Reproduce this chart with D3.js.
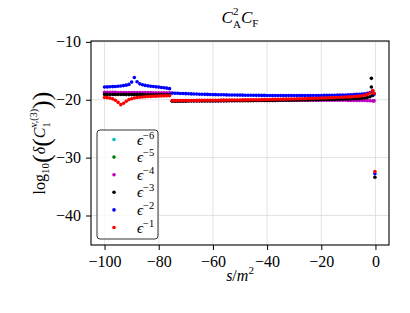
<!DOCTYPE html>
<html>
<head>
<meta charset="utf-8">
<script src="https://cdn.jsdelivr.net/npm/d3@7"></script>
<style>
  body { margin: 0; background: #fff; }
  svg { display: block; }
  text { font-family: "Liberation Serif", "DejaVu Serif", serif; fill: #000; }
</style>
</head>
<body>
<svg id="chart" width="410" height="313"></svg>
<script>
// ---- data ----
const sGrid = [
  -100,-99,-98,-97,-96,-95,-94,-93,-92,-91,-90,-89,-88,-87,-86,-85,-84,-83,-82,-81,
  -80,-79,-78,-77,-76,-75,-74,-73,-72,-71,-70,-69,-68,-67,-66,-65,-64,-63,-62,-61,
  -60,-59,-58,-57,-56,-55,-54,-53,-52,-51,-50,-49,-48,-47,-46,-45,-44,-43,-42,-41,
  -40,-39,-38,-37,-36,-35,-34,-33,-32,-31,-30,-29,-28,-27,-26,-25,-24,-23,-22,-21,
  -20,-19,-18,-17,-16,-15,-14,-13,-12,-11,-10,-9,-8,-7,-6,-5,-4,-3,-2,-1
];

const epsM6 = [];   // eps^-6, not visible in the picture
const epsM5 = [];   // eps^-5, not visible in the picture

const epsM4 = [
  -18.72,-18.72,-18.73,-18.73,-18.73,-18.74,-18.74,-18.74,-18.75,-18.75,
  -18.75,-18.75,-18.76,-18.76,-18.76,-18.77,-18.77,-18.77,-18.78,-18.78,
  -18.78,-18.79,-18.79,-18.79,-18.80,
  -20.20,-20.20,-20.20,-20.19,-20.19,-20.19,-20.19,-20.18,-20.18,-20.18,
  -20.18,-20.18,-20.17,-20.17,-20.17,-20.17,-20.16,-20.16,-20.16,-20.16,
  -20.15,-20.15,-20.15,-20.15,-20.14,-20.14,-20.14,-20.14,-20.13,-20.13,
  -20.13,-20.13,-20.12,-20.12,-20.12,-20.12,-20.11,-20.11,-20.11,-20.11,
  -20.10,-20.10,-20.10,-20.10,-20.10,-20.10,-20.09,-20.09,-20.09,-20.09,
  -20.09,-20.09,-20.09,-20.09,-20.09,-20.09,-20.09,-20.09,-20.09,-20.09,
  -20.09,-20.10,-20.10,-20.10,-20.10,-20.11,-20.11,-20.11,-20.12,-20.12,
  -20.13,-20.14,-20.15,-20.17,-20.20
];

const epsM3 = [
  -19.08,-19.08,-19.09,-19.09,-19.09,-19.10,-19.10,-19.10,-19.11,-19.11,
  -19.11,-19.12,-19.12,-19.12,-19.12,-19.13,-19.13,-19.13,-19.14,-19.14,
  -19.14,-19.15,-19.15,-19.15,-19.16,
  -20.25,-20.25,-20.25,-20.24,-20.24,-20.24,-20.23,-20.23,-20.23,-20.22,
  -20.22,-20.22,-20.21,-20.21,-20.21,-20.20,-20.20,-20.20,-20.19,-20.19,
  -20.19,-20.18,-20.18,-20.18,-20.17,-20.17,-20.16,-20.16,-20.16,-20.15,
  -20.15,-20.14,-20.14,-20.13,-20.13,-20.12,-20.12,-20.11,-20.11,-20.10,
  -20.10,-20.09,-20.09,-20.08,-20.07,-20.07,-20.06,-20.05,-20.05,-20.04,
  -20.03,-20.02,-20.01,-20.00,-19.99,-19.98,-19.97,-19.96,-19.95,-19.94,
  -19.93,-19.92,-19.90,-19.89,-19.88,-19.86,-19.84,-19.82,-19.80,-19.77,
  -19.74,-19.69,-19.61,-19.48,-19.25
];

const epsM2 = [
  -17.80,-17.78,-17.76,-17.73,-17.70,-17.66,-17.62,-17.56,-17.48,-17.35,
  -16.95,-16.15,-16.90,-17.25,-17.42,-17.52,-17.60,-17.66,-17.72,-17.77,
  -17.82,-17.88,-17.94,-18.00,-18.08,
  -18.85,-18.87,-18.89,-18.91,-18.93,-18.95,-18.97,-18.99,-19.00,-19.02,
  -19.04,-19.05,-19.07,-19.08,-19.10,-19.11,-19.12,-19.13,-19.14,-19.15,
  -19.16,-19.17,-19.18,-19.19,-19.20,-19.20,-19.21,-19.22,-19.22,-19.23,
  -19.23,-19.24,-19.24,-19.25,-19.25,-19.26,-19.26,-19.26,-19.27,-19.27,
  -19.27,-19.28,-19.28,-19.28,-19.28,-19.28,-19.28,-19.28,-19.28,-19.28,
  -19.28,-19.27,-19.27,-19.27,-19.26,-19.26,-19.25,-19.25,-19.24,-19.23,
  -19.22,-19.21,-19.20,-19.19,-19.17,-19.15,-19.13,-19.11,-19.08,-19.05,
  -19.01,-18.96,-18.88,-18.76,-18.50
];

const epsM1 = [
  -19.60,-19.64,-19.72,-19.85,-20.10,-20.45,-20.85,-20.60,-20.25,-19.98,
  -19.82,-19.70,-19.62,-19.56,-19.52,-19.48,-19.45,-19.42,-19.40,-19.38,
  -19.36,-19.34,-19.33,-19.32,-19.30,
  -20.15,-20.15,-20.14,-20.14,-20.13,-20.13,-20.12,-20.12,-20.12,-20.11,
  -20.11,-20.10,-20.10,-20.10,-20.09,-20.09,-20.08,-20.08,-20.07,-20.07,
  -20.06,-20.06,-20.05,-20.05,-20.04,-20.04,-20.03,-20.03,-20.02,-20.01,
  -20.00,-20.00,-19.99,-19.98,-19.97,-19.96,-19.95,-19.94,-19.93,-19.92,
  -19.91,-19.90,-19.89,-19.88,-19.87,-19.86,-19.85,-19.83,-19.82,-19.81,
  -19.79,-19.78,-19.76,-19.75,-19.73,-19.71,-19.70,-19.68,-19.66,-19.64,
  -19.62,-19.60,-19.58,-19.56,-19.53,-19.51,-19.48,-19.45,-19.41,-19.37,
  -19.31,-19.22,-19.08,-18.85,-18.40
];

// points very close to s = 0, outside the regular grid
const tailS4 = [-0.5];           const tailV4 = [-20.2];
const tailS3 = [-1.5, -1.5, -0.5, -0.2]; const tailV3 = [-16.3, -17.8, -19.0, -33.4];
const tailS2 = [-0.5, -0.2];     const tailV2 = [-19.0, -32.8];
const tailS1 = [-0.5, -0.2];     const tailV1 = [-18.9, -32.4];

const legendExp = ["−6", "−5", "−4", "−3", "−2", "−1"];
const seriesColors = ["#00bfbf", "#008000", "#bf00bf", "#000000", "#0000ff", "#ff0000"];

const xTicks = [-100, -80, -60, -40, -20, 0];
const yTicks = [-10, -20, -30, -40];

// ---- layout ----
const margin = { left: 91, top: 41, right: 21, bottom: 68 };
const W = 410, H = 313;
const plotW = W - margin.left - margin.right;
const plotH = H - margin.top - margin.bottom;

const svg = d3.select("#chart");
const g = svg.append("g").attr("transform", `translate(${margin.left},${margin.top})`);

const x = d3.scaleLinear().domain([-105, 5]).range([0, plotW]);
const y = d3.scaleLinear().domain([-45.1, -9.85]).range([plotH, 0]);

// grid
g.append("g").selectAll("line").data(xTicks).join("line")
  .attr("x1", d => x(d)).attr("x2", d => x(d))
  .attr("y1", 0).attr("y2", plotH)
  .attr("stroke", "#dcdcdc").attr("stroke-width", 0.8);
g.append("g").selectAll("line").data(yTicks).join("line")
  .attr("x1", 0).attr("x2", plotW)
  .attr("y1", d => y(d)).attr("y2", d => y(d))
  .attr("stroke", "#dcdcdc").attr("stroke-width", 0.8);

// series -> points
function toPoints(vals, tailS, tailV) {
  const pts = vals.map((v, i) => ({ s: sGrid[i], v }));
  tailS.forEach((s, i) => pts.push({ s, v: tailV[i] }));
  return pts;
}
const allSeries = [
  toPoints(epsM6, [], []),
  toPoints(epsM5, [], []),
  toPoints(epsM4, tailS4, tailV4),
  toPoints(epsM3, tailS3, tailV3),
  toPoints(epsM2, tailS2, tailV2),
  toPoints(epsM1, tailS1, tailV1)
];

const clip = svg.append("defs").append("clipPath").attr("id", "plotclip");
clip.append("rect").attr("width", plotW).attr("height", plotH);

const dataLayer = g.append("g").attr("clip-path", "url(#plotclip)");
allSeries.forEach((pts, k) => {
  dataLayer.append("g").selectAll("circle").data(pts).join("circle")
    .attr("cx", d => x(d.s))
    .attr("cy", d => y(d.v))
    .attr("r", 1.8)
    .attr("fill", seriesColors[k]);
});

// axes
const xAxis = g.append("g").attr("transform", `translate(0,${plotH})`)
  .call(d3.axisBottom(x).tickValues(xTicks).tickSize(5).tickSizeOuter(0).tickPadding(6));
const yAxis = g.append("g")
  .call(d3.axisLeft(y).tickValues(yTicks).tickSize(5).tickSizeOuter(0).tickPadding(5));
[xAxis, yAxis].forEach(a => {
  a.select(".domain").remove();
  a.selectAll(".tick line").attr("stroke", "#000").attr("stroke-width", 1);
  a.selectAll(".tick text").style("font-family", "Liberation Serif").style("font-size", "16px").attr("fill", "#000");
});

// frame
g.append("rect").attr("width", plotW).attr("height", plotH)
  .attr("fill", "none").attr("stroke", "#000").attr("stroke-width", 1.1);

// legend
const leg = g.append("g").attr("transform", "translate(6,89)");
leg.append("rect").attr("width", 61).attr("height", 109).attr("rx", 3)
  .attr("fill", "#fff").attr("fill-opacity", 0.8)
  .attr("stroke", "#333").attr("stroke-width", 1);
legendExp.forEach((e, i) => {
  const row = leg.append("g").attr("transform", `translate(0,${9.5 + i * 17.6})`);
  row.append("circle").attr("cx", 17).attr("cy", 0).attr("r", 1.8).attr("fill", seriesColors[i]);
  const t = row.append("text").attr("x", 40).attr("y", 5).style("font-size", "15px");
  t.append("tspan").attr("font-style", "italic").text("ϵ");
  t.append("tspan").attr("dy", -6).style("font-size", "10.5px").text(e);
});

// title: C^2_A C_F (superscript and subscript stacked)
const title = svg.append("text").attr("x", margin.left + plotW / 2).attr("y", 23)
  .attr("text-anchor", "middle").style("font-size", "17px");
title.append("tspan").attr("font-style", "italic").text("C");
title.append("tspan").attr("dy", -8).style("font-size", "11px").text("2");
title.append("tspan").attr("dx", -5.5).attr("dy", 12.5).style("font-size", "11px").text("A");
title.append("tspan").attr("dy", -4.5).attr("font-style", "italic").text("C");
title.append("tspan").attr("dy", 4).style("font-size", "11px").text("F");

// x label
const xl = svg.append("text").attr("x", margin.left + plotW / 2).attr("y", 281)
  .attr("text-anchor", "middle").style("font-size", "16px");
xl.append("tspan").attr("font-style", "italic").text("s");
xl.append("tspan").text("/");
xl.append("tspan").attr("font-style", "italic").text("m");
xl.append("tspan").attr("dy", -7).style("font-size", "11px").text("2");

// y label
const yl = svg.append("text")
  .attr("transform", `translate(45,${margin.top + plotH / 2}) rotate(-90)`)
  .attr("text-anchor", "middle").style("font-size", "16px");
yl.append("tspan").text("log");
yl.append("tspan").attr("dy", 4).style("font-size", "11px").text("10");
yl.append("tspan").attr("dy", 1).style("font-size", "26px").text("(");
yl.append("tspan").attr("dy", -5).attr("font-style", "italic").text("δ");
yl.append("tspan").attr("dy", 5).style("font-size", "26px").text("(");
yl.append("tspan").attr("dy", -5).attr("font-style", "italic").text("C");
yl.append("tspan").attr("dy", 4.5).style("font-size", "10px").text("1");
yl.append("tspan").attr("dx", -5).attr("dy", -12.5).style("font-size", "10px").text("v,(3)");
yl.append("tspan").attr("dy", 13).style("font-size", "26px").text(")");
yl.append("tspan").style("font-size", "26px").text(")");
</script>
</body>
</html>
